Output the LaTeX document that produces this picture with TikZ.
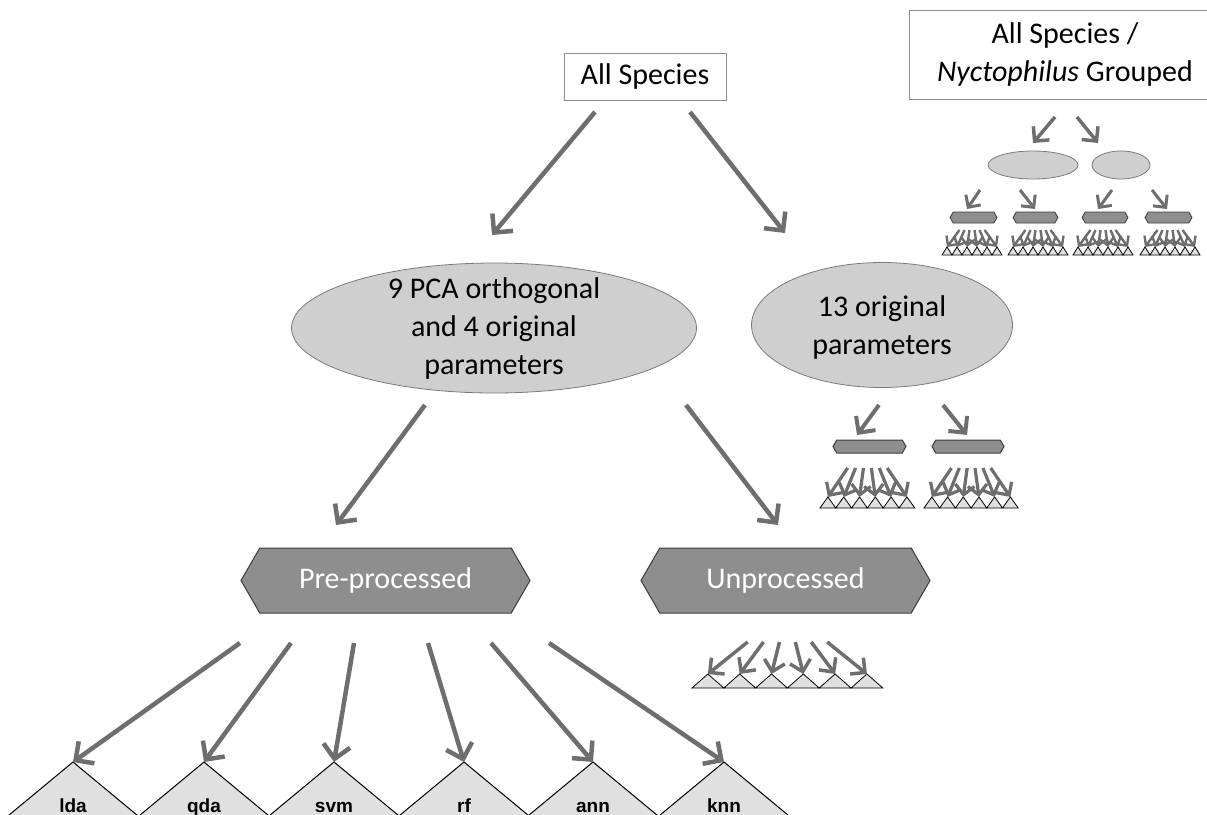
\documentclass[tikz,border=0pt]{standalone}
\usepackage{fontspec}
\setmainfont{Carlito}
\newfontfamily\algofont{Liberation Sans}
\usetikzlibrary{arrows.meta,shapes.geometric,shapes.symbols}

\definecolor{arrowgray}{HTML}{6E6E6E}
\definecolor{boxgray}{HTML}{8C8C8C}
\definecolor{paramfill}{HTML}{CFCFCF}
\definecolor{paramedge}{HTML}{7A7A7A}
\definecolor{hexfill}{HTML}{8E8E8E}
\definecolor{hexedge}{HTML}{3C3C3C}
\definecolor{trifill}{HTML}{E0E0E0}

\tikzset{
  arr/.style={draw=arrowgray, line width=#1, -{Straight Barb[length=0pt 3, width=0pt 6]}},
  arr/.default=4.5pt,
  box/.style={draw=boxgray, line width=0.8pt, fill=white, align=center, font=\fontsize{30}{38}\selectfont},
  param/.style={ellipse, draw=paramedge, line width=0.8pt, fill=paramfill},
  ptext/.style={align=center, font=\fontsize{30}{38}\selectfont},
  hexbox/.style={signal, signal to=west and east, signal pointer angle=120, draw=hexedge, fill=hexfill, line width=1pt, inner sep=0pt, text=white, font=\fontsize{30}{38}\selectfont},
  tri/.style={draw=black, fill=trifill, line width=1pt},
  algo/.style={anchor=base, font=\algofont\bfseries\fontsize{19}{21}\selectfont}
}

% row of six small trees: left x, apex y, triangle width, triangle height, arrow drop, arrow width
\newcommand{\fanrow}[6]{%
  \foreach \i in {0,...,5}
    \draw[tri, line width=0.8pt] ({#1+(\i+0.5)*#3},#2) -- ++({-#3/2},#4) -- ++(#3,0) -- cycle;
  \foreach \i in {0,...,5}
    \draw[arr=#6] ({#1+3*#3+0.5*(\i-2.5)*#3},{#2-#5}) -- ({#1+(\i+0.5)*#3},#2);
}

\begin{document}
\begin{tikzpicture}[x=1pt,y=-1pt]
    % Frame
    \useasboundingbox (0,0) rectangle (1207,814);
    \clip (0,0) rectangle (1207,814);

    % Data sets
    \node[box, minimum width=162pt, minimum height=47pt] (allsp) at (645,76.5) {All Species};
    \node[box, minimum width=312pt, minimum height=89pt] (grouped) at (1065,54.5) {All Species /\\\textit{Nyctophilus} Grouped};

    % Parameter sets
    \node[param, minimum width=405pt, minimum height=130pt] (pca) at (494,328) {};
    \node[ptext] at (pca) {9 PCA orthogonal\\and 4 original\\parameters};
    \node[param, minimum width=261pt, minimum height=125pt] (orig) at (882,325) {};
    \node[ptext] at ([yshift=-2pt]orig.center) {13 original\\parameters};

    % Processing
    \node[hexbox, minimum width=289pt, minimum height=65pt] (pre) at (385.5,580.5) {Pre-processed};
    \node[hexbox, minimum width=289pt, minimum height=65pt] (unp) at (785.5,580.5) {Unprocessed};

    % Arrows between levels
    \coordinate (allsp-l) at (595,112);
    \coordinate (allsp-r) at (690,112);
    \coordinate (pca-in) at (492,235);
    \coordinate (orig-in) at (785,233);
    \coordinate (pca-l) at (425,405);
    \coordinate (pca-r) at (686,405);
    \coordinate (pre-in) at (336,525);
    \coordinate (unp-in) at (778,525);
    \draw[arr] (allsp-l) -- (pca-in);
    \draw[arr] (allsp-r) -- (orig-in);
    \draw[arr] (pca-l) -- (pre-in);
    \draw[arr] (pca-r) -- (unp-in);

    % Classifiers
    \foreach \name/\x/\sx in {lda/73/240, qda/204/291, svm/334/354, rf/464/428, ann/593/491, knn/724/549} {
        \coordinate (\name) at (\x,762);
        \coordinate (\name-src) at (\sx,643);
        \draw[tri] (\name) -- ++(-82,68) -- ++(164,0) -- cycle;
        \node[algo] at (\x,812) {\name};
        \draw[arr] (\name-src) -- (\name);
    }

    % Unprocessed classifiers
    \fanrow{692}{674}{31.8}{14}{32}{3.5pt}

    % 13 original parameters branch
    \node[hexbox, minimum width=73pt, minimum height=13pt] (h1) at (869.5,446.5) {};
    \node[hexbox, minimum width=72pt, minimum height=13pt] (h2) at (968,446.5) {};
    \coordinate (orig-l) at (879,405);
    \coordinate (orig-r) at (943,405);
    \coordinate (h1-in) at (857,435);
    \coordinate (h2-in) at (967,435);
    \draw[arr=4pt] (orig-l) -- (h1-in);
    \draw[arr=4pt] (orig-r) -- (h2-in);
    \fanrow{820}{497}{15.8}{11}{29}{3.2pt}
    \fanrow{924}{497}{15.7}{11}{29}{3.2pt}

    % Grouped branch
    \node[param, minimum width=90pt, minimum height=28pt] (g1) at (1033,165) {};
    \node[param, minimum width=58pt, minimum height=28pt] (g2) at (1121,165) {};
    \coordinate (grp-l) at (1055,117);
    \coordinate (grp-r) at (1077,117);
    \coordinate (g1-in) at (1033,143);
    \coordinate (g2-in) at (1098,143);
    \draw[arr=3.5pt] (grp-l) -- (g1-in);
    \draw[arr=3.5pt] (grp-r) -- (g2-in);
    \foreach \n/\x/\w/\sx/\ex in {1/973.5/47/980/967, 2/1035.5/45/1020/1035, 3/1105/46/1112/1098, 4/1168.5/47/1152/1167} {
        \node[hexbox, line width=0.8pt, minimum width=\w pt, minimum height=11pt] (s\n) at (\x,217.5) {};
        \coordinate (s\n-src) at (\sx,190);
        \coordinate (s\n-in) at (\ex,209);
        \draw[arr=3pt] (s\n-src) -- (s\n-in);
    }
    \fanrow{942}{247}{10}{8}{17}{2.4pt}
    \fanrow{1008}{247}{10}{8}{17}{2.4pt}
    \fanrow{1073}{247}{10}{8}{17}{2.4pt}
    \fanrow{1140}{247}{10}{8}{17}{2.4pt}
\end{tikzpicture}
\end{document}
